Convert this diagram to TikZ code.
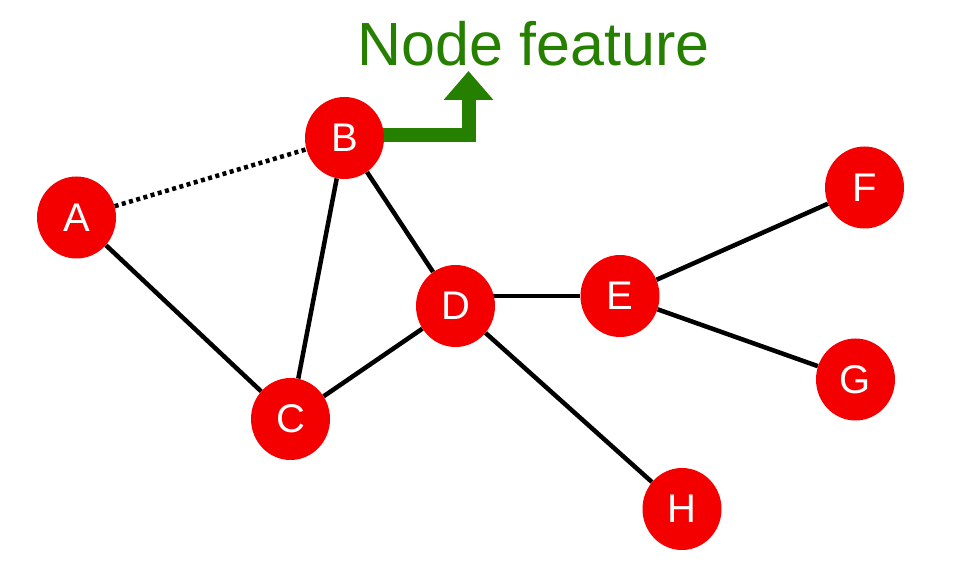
\documentclass[tikz,border=0pt]{standalone}
\usepackage{fontspec}
\setmainfont{Liberation Sans}
\usetikzlibrary{arrows.meta,backgrounds,shapes.geometric}
\definecolor{nodered}{RGB}{245,0,0}
\definecolor{featgreen}{RGB}{38,128,0}
\tikzset{
  vertex/.style={ellipse, fill=nodered, minimum width=79pt, minimum height=82pt,
    inner sep=0pt, text=white, font=\fontsize{40}{40}\selectfont},
  link/.style={line width=4.5pt, black},
  weak/.style={line width=4.5pt, black, dash pattern=on 4pt off 3.5pt},
  feat/.style={line width=14pt, featgreen, line join=miter,
    -{Triangle[width=48pt,length=29pt]}}
}
\begin{document}
\begin{tikzpicture}[x=1pt,y=1pt]
\useasboundingbox (0,0) rectangle (978,562);
% graph vertices (y measured upwards)
\node[vertex] (A) at (76.5,344.5) {A};
\node[vertex] (B) at (344.5,424) {B};
\node[vertex] (C) at (290.5,143) {C};
\node[vertex] (D) at (455.5,256) {D};
\node[vertex] (E) at (620,266) {E};
\node[vertex] (F) at (864.5,374.5) {F};
\node[vertex] (G) at (855.5,182.5) {G};
\node[vertex] (H) at (682,53) {H};
% feature label and the arrow pointing to it
\node[anchor=base west, inner sep=0pt, text=featgreen,
  font=\fontsize{61}{61}\selectfont] (label) at (357,496) {Node feature};
\coordinate (tip) at (468.5,491);
\coordinate (start) at (344.5,427);
\begin{pgfonlayer}{background}
  \draw[feat] (start) -| (tip);
  \draw[weak] (A) -- (B);
  \draw[link] (A) -- (C);
  \draw[link] (B) -- (C);
  \draw[link] (B) -- (D);
  \draw[link] (C) -- (D);
  \draw[link] (E) -- (E -| D);
  \draw[link] (E) -- (F);
  \draw[link] (E) -- (G);
  \draw[link] (D) -- (H);
\end{pgfonlayer}
\end{tikzpicture}
\end{document}
